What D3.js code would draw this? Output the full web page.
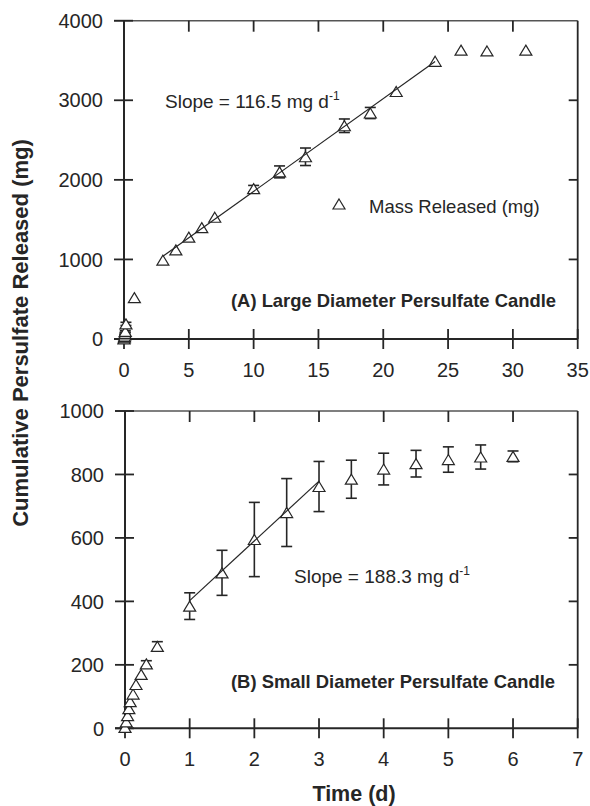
<!DOCTYPE html>
<html><head><meta charset="utf-8">
<script src="https://cdn.jsdelivr.net/npm/d3@7"></script>
<style>body{margin:0;background:#fff}svg{display:block;font-family:"Liberation Sans",Arial,sans-serif}</style>
</head><body><svg id="c" width="590" height="806"></svg>
<script>
// ---- Panel A data (large diameter candle) ----
const timeA = [0, 0.02, 0.04, 0.06, 0.08, 0.1, 0.15, 0.8, 3, 4, 5, 6, 7, 10, 12, 14, 17, 19, 21, 24, 26, 28, 31];
const massA = [0, 15, 30, 50, 70, 95, 190, 520, 990, 1120, 1280, 1400, 1530, 1890, 2100, 2290, 2680, 2840, 3110, 3490, 3630, 3620, 3630];
const errA  = [0, 10, 10, 10, 10, 10, 20, 0, 0, 0, 0, 0, 0, 40, 75, 110, 85, 70, 0, 0, 0, 0, 0];
const fitA = {x0: 3, x1: 24, intercept: 690, slope: 116.5};
// ---- Panel B data (small diameter candle) ----
const timeB = [0, 0.02, 0.04, 0.06, 0.08, 0.125, 0.17, 0.25, 0.33, 0.5, 1, 1.5, 2, 2.5, 3, 3.5, 4, 4.5, 5, 5.5, 6];
const massB = [3, 20, 40, 62, 84, 108, 138, 170, 203, 258, 385, 490, 595, 680, 762, 785, 817, 834, 847, 855, 857];
const errB  = [0, 0, 0, 0, 0, 0, 0, 0, 10, 15, 42, 71, 117, 107, 79, 60, 50, 42, 40, 38, 17];
const fitB = {x0: 1, x1: 3, intercept: 214, slope: 188.3};
// ---- axis ticks ----
const xTicksA = [0, 5, 10, 15, 20, 25, 30, 35];
const yTicksA = [0, 1000, 2000, 3000, 4000];
const xTicksB = [0, 1, 2, 3, 4, 5, 6, 7];
const yTicksB = [0, 200, 400, 600, 800, 1000];

const svg = d3.select("#c");
const ink = "#262626";
const FS = 20;

function triPath(w, h) {
  return `M0,${-h/2}L${w/2},${h/2}L${-w/2},${h/2}Z`;
}

function panel(o) {
  const x = d3.scaleLinear().domain(o.xd).range([o.left, o.right]);
  const y = d3.scaleLinear().domain(o.yd).range([o.bottom, o.top]);
  const g = svg.append("g");
  // frame top & right
  g.append("line").attr("x1", o.left - 10).attr("x2", o.right).attr("y1", o.top).attr("y2", o.top)
    .attr("stroke", "#555").attr("stroke-width", 1.6);
  g.append("line").attr("x1", o.right).attr("x2", o.right).attr("y1", o.top).attr("y2", o.bottom)
    .attr("stroke", ink).attr("stroke-width", 1.8);
  // axes
  g.append("line").attr("x1", o.left).attr("x2", o.left).attr("y1", o.top).attr("y2", o.bottom)
    .attr("stroke", ink).attr("stroke-width", 2);
  g.append("line").attr("x1", o.left - 10).attr("x2", o.right).attr("y1", o.bottom).attr("y2", o.bottom)
    .attr("stroke", ink).attr("stroke-width", 2);
  // x ticks
  o.xt.forEach(t => {
    const px = x(t);
    g.append("line").attr("x1", px).attr("x2", px).attr("y1", o.bottom - 10).attr("y2", o.bottom + 10)
      .attr("stroke", ink).attr("stroke-width", 1.8);
    if (t !== o.xd[0] && t !== o.xd[1])
      g.append("line").attr("x1", px).attr("x2", px).attr("y1", o.top).attr("y2", o.top + 11)
        .attr("stroke", ink).attr("stroke-width", 1.8);
    g.append("text").attr("x", px).attr("y", o.bottom + 37.5).attr("text-anchor", "middle")
      .attr("font-size", FS).attr("fill", ink).text(t);
  });
  o.yt.forEach(t => {
    const py = y(t);
    g.append("line").attr("x1", o.left - 10).attr("x2", o.left + 9).attr("y1", py).attr("y2", py)
      .attr("stroke", ink).attr("stroke-width", 1.8);
    if (t !== o.yd[0] && t !== o.yd[1])
      g.append("line").attr("x1", o.right - 9).attr("x2", o.right).attr("y1", py).attr("y2", py)
        .attr("stroke", ink).attr("stroke-width", 1.8);
    g.append("text").attr("x", o.left - 21).attr("y", py).attr("dy", "0.36em").attr("text-anchor", "end")
      .attr("font-size", FS).attr("fill", ink).text(t);
  });
  // error bars
  const eb = o.xs.map((t, i) => ({t, v: o.ys[i], e: o.es[i]})).filter(d => d.e > 0);
  eb.forEach(d => {
    const px = x(d.t), y1 = y(d.v + d.e), y2 = y(d.v - d.e);
    g.append("line").attr("x1", px).attr("x2", px).attr("y1", y1).attr("y2", y2).attr("stroke", ink).attr("stroke-width", 1.6);
    [y1, y2].forEach(yy => g.append("line").attr("x1", px - 5.5).attr("x2", px + 5.5).attr("y1", yy).attr("y2", yy)
      .attr("stroke", ink).attr("stroke-width", 1.6));
  });
  // markers
  g.selectAll(null).data(o.xs.map((t, i) => [t, o.ys[i]])).enter().append("path")
    .attr("d", triPath(12, 10)).attr("transform", d => `translate(${x(d[0])},${y(d[1])})`)
    .attr("fill", "#fff").attr("stroke", ink).attr("stroke-width", 1.2);
  // fit line
  const f = o.fit;
  g.append("line").attr("x1", x(f.x0)).attr("y1", y(f.intercept + f.slope * f.x0))
    .attr("x2", x(f.x1)).attr("y2", y(f.intercept + f.slope * f.x1))
    .attr("stroke", ink).attr("stroke-width", 1.2);
  return {x, y, g};
}

const A = panel({xd: [0, 35], yd: [0, 4000], left: 124, right: 577.7, top: 20.7, bottom: 339,
  xt: xTicksA, yt: yTicksA, xs: timeA, ys: massA, es: errA, fit: fitA});
const B = panel({xd: [0, 7], yd: [0, 1000], left: 125, right: 577.7, top: 411, bottom: 728.3,
  xt: xTicksB, yt: yTicksB, xs: timeB, ys: massB, es: errB, fit: fitB});

function slopeText(xp, yp, val) {
  const t = svg.append("text").attr("x", xp).attr("y", yp).attr("font-size", 19).attr("fill", ink);
  t.append("tspan").text(`Slope = ${val} mg d`);
  t.append("tspan").attr("dy", -8).attr("font-size", 12).text("-1");
}
slopeText(165, 108, "116.5");
slopeText(294, 583.3, "188.3");

// legend
svg.append("path").attr("d", triPath(12, 10)).attr("transform", "translate(339,204)")
  .attr("fill", "#fff").attr("stroke", ink).attr("stroke-width", 1.2);
svg.append("text").attr("x", 369).attr("y", 212.7).attr("font-size", 18.5).attr("fill", ink).text("Mass Released (mg)");

svg.append("text").attr("x", 231).attr("y", 306.7).attr("font-size", 18.4).attr("font-weight", "bold")
  .attr("fill", ink).text("(A) Large Diameter Persulfate Candle");
svg.append("text").attr("x", 231).attr("y", 688.3).attr("font-size", 18.4).attr("font-weight", "bold")
  .attr("fill", ink).text("(B) Small Diameter Persulfate Candle");

svg.append("text").attr("x", 354).attr("y", 801).attr("text-anchor", "middle").attr("font-size", 21.5)
  .attr("font-weight", "bold").attr("fill", ink).text("Time (d)");
svg.append("text").attr("transform", "translate(28,333) rotate(-90)").attr("text-anchor", "middle")
  .attr("font-size", 22).attr("font-weight", "bold").attr("fill", ink).text("Cumulative Persulfate Released (mg)");
</script></body></html>
